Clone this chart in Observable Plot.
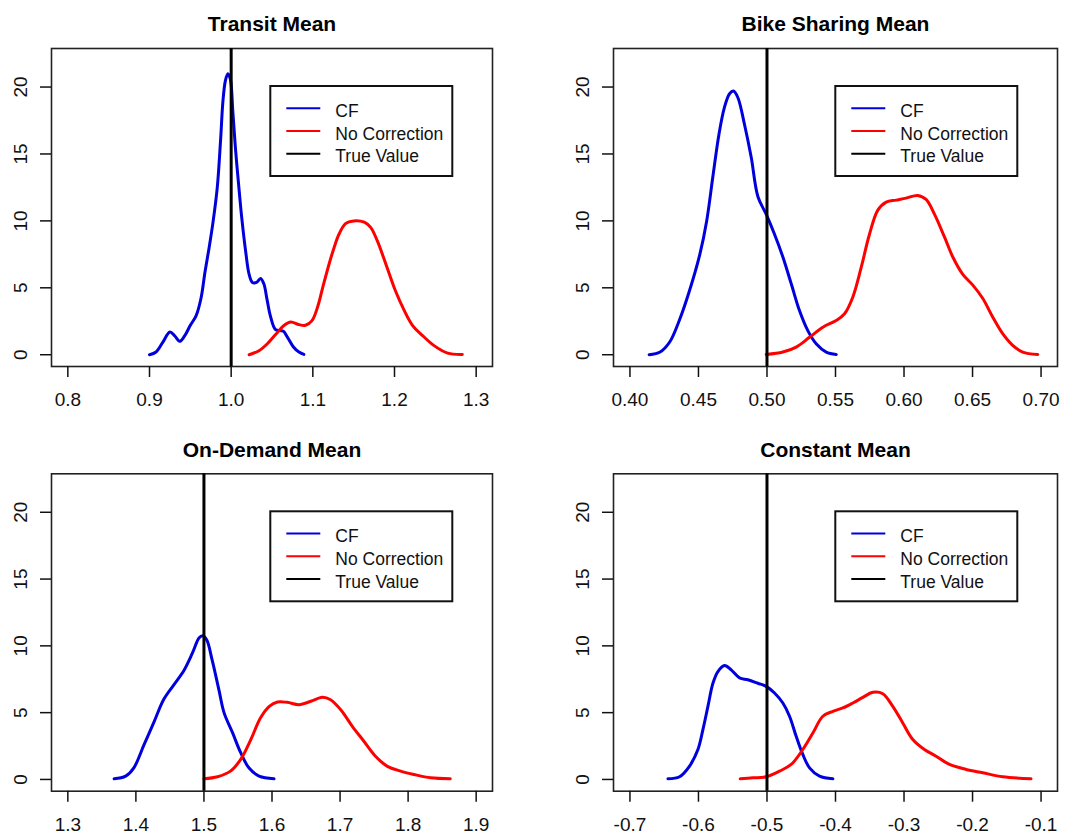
<!DOCTYPE html>
<html>
<head>
<meta charset="utf-8">
<script src="https://cdn.jsdelivr.net/npm/d3@7"></script>
<script src="https://cdn.jsdelivr.net/npm/@observablehq/plot@0.6"></script>
<style>
  body { margin: 0; background: #fff; }
  #root { position: relative; width: 1072px; height: 835px; font-family: "Liberation Sans", Arial, sans-serif; }
  .panel { position: absolute; }
</style>
</head>
<body>
<div id="root"></div>
<script>
// ---------- data ----------
const titles = ["Transit Mean", "Bike Sharing Mean", "On-Demand Mean", "Constant Mean"];
const trueValues = [1.0, 0.5, 1.5, -0.5];
const xLimits = [[0.8, 1.3], [0.4, 0.7], [1.3, 1.9], [-0.7, -0.1]];
const xTicks = [
  [0.8, 0.9, 1.0, 1.1, 1.2, 1.3],
  [0.40, 0.45, 0.50, 0.55, 0.60, 0.65, 0.70],
  [1.3, 1.4, 1.5, 1.6, 1.7, 1.8, 1.9],
  [-0.7, -0.6, -0.5, -0.4, -0.3, -0.2, -0.1]
];
const xTickDecimals = [1, 2, 1, 1];
const yLimits = [0, 22];
const yTicks = [0, 5, 10, 15, 20];
const legendLabels = ["CF", "No Correction", "True Value"];
const seriesColors = ["#0000DD", "#FF0000", "#000000"];

const transitCF = [[0.900,0.0],[0.908,0.2],[0.916,0.9],[0.925,1.7],[0.931,1.4],[0.937,1.0],[0.943,1.4],[0.950,2.2],[0.957,2.9],[0.963,4.2],[0.968,6.2],[0.973,8.0],[0.978,10.0],[0.983,12.5],[0.987,16.0],[0.990,19.0],[0.993,20.5],[0.996,21.0],[0.999,20.6],[1.002,18.2],[1.005,15.6],[1.009,12.8],[1.013,10.2],[1.018,7.6],[1.022,6.0],[1.026,5.4],[1.031,5.4],[1.036,5.7],[1.040,5.3],[1.044,4.1],[1.048,2.9],[1.054,1.9],[1.060,1.8],[1.064,1.75],[1.069,1.3],[1.076,0.6],[1.083,0.2],[1.089,0.02]];
const transitNC = [[1.022,0.0],[1.034,0.3],[1.044,0.8],[1.055,1.55],[1.065,2.2],[1.073,2.45],[1.083,2.25],[1.091,2.2],[1.099,2.55],[1.106,3.6],[1.112,5.0],[1.120,6.8],[1.126,8.0],[1.132,9.0],[1.140,9.8],[1.150,10.0],[1.163,9.9],[1.171,9.5],[1.179,8.5],[1.191,6.5],[1.201,4.8],[1.212,3.3],[1.222,2.2],[1.234,1.45],[1.248,0.7],[1.265,0.12],[1.283,0.02]];

const bikeCF = [[0.414,0.0],[0.422,0.2],[0.429,0.95],[0.436,2.56],[0.4435,4.8],[0.451,7.5],[0.456,10.0],[0.4605,13.3],[0.465,16.5],[0.469,18.5],[0.4727,19.5],[0.4756,19.7],[0.4788,19.2],[0.4836,17.2],[0.4885,14.75],[0.4934,11.8],[0.4994,10.5],[0.5055,9.0],[0.5116,7.3],[0.5177,5.3],[0.5237,3.3],[0.5298,1.8],[0.5359,0.82],[0.5432,0.2],[0.5505,0.02]];
const bikeNC = [[0.4994,0.02],[0.5116,0.2],[0.5213,0.57],[0.531,1.3],[0.5408,2.06],[0.5505,2.56],[0.5566,3.06],[0.5626,4.3],[0.5687,6.5],[0.5748,9.0],[0.5809,10.8],[0.587,11.4],[0.5942,11.55],[0.6015,11.7],[0.61,11.9],[0.6161,11.6],[0.6222,10.5],[0.6295,8.8],[0.6356,7.3],[0.6429,6.0],[0.6502,5.2],[0.6575,4.2],[0.6648,2.8],[0.672,1.57],[0.6793,0.7],[0.6866,0.2],[0.6976,0.02]];

const demandCF = [[1.368,0.05],[1.385,0.25],[1.397,0.87],[1.412,2.6],[1.427,4.35],[1.441,6.0],[1.456,7.1],[1.471,8.2],[1.483,9.45],[1.493,10.6],[1.498,10.75],[1.504,10.45],[1.512,8.95],[1.522,6.7],[1.5295,5.0],[1.542,3.5],[1.554,2.0],[1.566,0.87],[1.581,0.25],[1.603,0.05]];
const demandNC = [[1.500,0.05],[1.520,0.2],[1.539,0.62],[1.554,1.5],[1.569,3.0],[1.583,4.6],[1.596,5.47],[1.608,5.8],[1.6225,5.77],[1.640,5.6],[1.657,5.85],[1.674,6.15],[1.686,5.97],[1.701,5.22],[1.718,3.98],[1.735,2.86],[1.752,1.74],[1.769,1.0],[1.789,0.62],[1.8085,0.37],[1.833,0.12],[1.862,0.05]];

const constantCF = [[-0.6446,0.05],[-0.6276,0.2],[-0.613,1.0],[-0.6008,2.24],[-0.5935,3.73],[-0.5862,5.47],[-0.5789,7.2],[-0.5716,8.08],[-0.5619,8.53],[-0.5522,8.2],[-0.540,7.6],[-0.5279,7.46],[-0.5133,7.2],[-0.5011,6.97],[-0.489,6.47],[-0.4768,5.72],[-0.4671,4.73],[-0.4574,3.23],[-0.4477,1.87],[-0.4379,0.87],[-0.4233,0.25],[-0.4039,0.05]];
const constantNC = [[-0.539,0.05],[-0.5206,0.12],[-0.5011,0.2],[-0.4817,0.62],[-0.4647,1.12],[-0.4477,2.24],[-0.433,3.48],[-0.4185,4.73],[-0.4039,5.1],[-0.3893,5.35],[-0.3747,5.72],[-0.3601,6.14],[-0.3456,6.52],[-0.331,6.42],[-0.3164,5.47],[-0.3018,4.23],[-0.2872,2.99],[-0.2702,2.24],[-0.2532,1.74],[-0.2337,1.12],[-0.2094,0.75],[-0.1851,0.5],[-0.1559,0.2],[-0.1146,0.05]];

const cfSeries = [transitCF, bikeCF, demandCF, constantCF];
const ncSeries = [transitNC, bikeNC, demandNC, constantNC];

// ---------- layout ----------
const panels = [
  {left: 0,   top: 0,   width: 536, height: 418, mL: 51, mR: 44, mT: 48,   mB: 52},
  {left: 536, top: 0,   width: 536, height: 418, mL: 77, mR: 15, mT: 48,   mB: 52},
  {left: 0,   top: 418, width: 536, height: 417, mL: 51, mR: 44, mT: 55.3, mB: 44.3},
  {left: 536, top: 418, width: 536, height: 417, mL: 77, mR: 15, mT: 55.3, mB: 44.3}
];

const expand = ([a, b]) => { const r = (b - a) * 0.04; return [a - r, b + r]; };
const toRows = (arr) => arr.map(([x, y]) => ({x, y}));

function legendMark(index, scales, values, dimensions) {
  const {width, marginRight, marginTop} = dimensions;
  const w = 182, h = 90;
  const right = width - marginRight - 39.7;
  const left = right - w;
  const top = marginTop + 38;
  const g = d3.create("svg:g");
  g.append("rect").attr("x", left).attr("y", top).attr("width", w).attr("height", h)
    .attr("fill", "white").attr("stroke", "#111").attr("stroke-width", 2);
  legendLabels.forEach((lab, k) => {
    const y = top + 22.3 + k * 22.7;
    g.append("line").attr("x1", left + 16).attr("x2", left + 50).attr("y1", y).attr("y2", y)
      .attr("stroke", seriesColors[k]).attr("stroke-width", 2);
    g.append("text").attr("x", left + 65).attr("y", y).attr("dy", "0.5em")
      .attr("text-anchor", "start")
      .attr("font-size", 17.5).attr("fill", "#111").text(lab);
  });
  return g.node();
}

const root = document.getElementById("root");
panels.forEach((p, i) => {
  const fmt = (d) => d.toFixed(xTickDecimals[i]);
  const chart = Plot.plot({
    width: p.width,
    height: p.height,
    marginLeft: p.mL, marginRight: p.mR, marginTop: p.mT, marginBottom: p.mB,
    style: {fontFamily: '"Liberation Sans", Arial, sans-serif', background: "transparent", overflow: "visible", color: "#111"},
    x: {domain: expand(xLimits[i]), label: null},
    y: {domain: expand(yLimits), label: null},
    marks: [
      Plot.frame({stroke: "#222", strokeWidth: 1.6}),
      Plot.axisX({ticks: xTicks[i], tickFormat: fmt, tickSize: 11, tickPadding: 15, fontSize: 19, strokeWidth: 1.5, label: null}),
      Plot.axisY({ticks: yTicks, tickSize: 11, tickPadding: 14, tickRotate: -90, fontSize: 19, strokeWidth: 1.5, label: null}),
      Plot.line(toRows(cfSeries[i]), {x: "x", y: "y", stroke: seriesColors[0], strokeWidth: 3, curve: "catmull-rom"}),
      Plot.line(toRows(ncSeries[i]), {x: "x", y: "y", stroke: seriesColors[1], strokeWidth: 3, curve: "catmull-rom"}),
      Plot.ruleX([trueValues[i]], {stroke: seriesColors[2], strokeWidth: 3}),
      Plot.text([titles[i]], {frameAnchor: "top", dy: -17.3, lineAnchor: "bottom", fontSize: 21, fontWeight: "bold", fill: "#000"}),
      legendMark
    ]
  });
  const div = document.createElement("div");
  div.className = "panel";
  div.style.left = p.left + "px";
  div.style.top = p.top + "px";
  div.appendChild(chart);
  root.appendChild(div);
});
</script>
</body>
</html>
